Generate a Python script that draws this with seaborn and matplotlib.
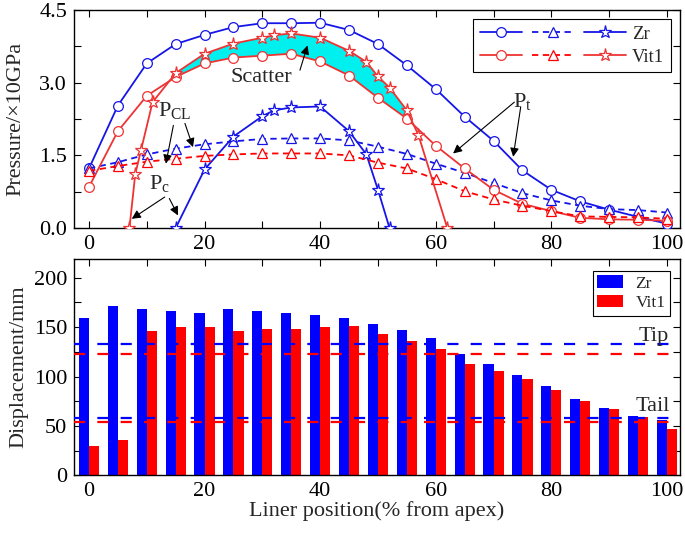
import numpy as np
import pandas as pd
import matplotlib
matplotlib.use("Agg")
import matplotlib.pyplot as plt
from matplotlib.lines import Line2D
from matplotlib.patches import Patch
from matplotlib.legend_handler import HandlerTuple
import seaborn as sns

# liner position (% from apex)
pos = [0, 5, 10, 15, 20, 25, 30, 35, 40, 45, 50, 55, 60, 65, 70, 75, 80, 85, 90, 95, 100]

# pressure (x10 GPa): Pt = circles, PCL = triangles, Pc = stars
zr_pt = [1.23, 2.53, 3.40, 3.80, 3.99, 4.15, 4.23, 4.23, 4.24, 4.09, 3.80, 3.36, 2.87, 2.30,
         1.80, 1.19, 0.79, 0.55, 0.38, 0.23, 0.09]
vit_pt = [0.85, 2.00, 2.73, 3.12, 3.40, 3.52, 3.56, 3.60, 3.44, 3.15, 2.69, 2.26, 1.70, 1.23,
          0.79, 0.50, 0.35, 0.21, 0.18, 0.17, 0.15]
zr_pcl = [1.23, 1.36, 1.52, 1.64, 1.73, 1.79, 1.84, 1.85, 1.85, 1.81, 1.68, 1.53, 1.33, 1.14,
          0.93, 0.72, 0.57, 0.46, 0.39, 0.37, 0.32]
vit_pcl = [1.18, 1.28, 1.37, 1.43, 1.49, 1.52, 1.54, 1.54, 1.54, 1.50, 1.35, 1.23, 1.01, 0.76,
           0.59, 0.46, 0.35, 0.24, 0.23, 0.22, 0.19]
zr_pc_x = [15, 20, 25, 30, 32, 35, 40, 45, 48, 50, 52]
zr_pc = [0.0, 1.21, 1.89, 2.31, 2.43, 2.49, 2.51, 2.00, 1.52, 0.79, 0.0]
vit_pc_x = [7, 8, 9, 11, 15, 20, 25, 30, 32, 35, 40, 45, 48, 50, 52, 55, 57, 62]
vit_pc = [0.0, 1.11, 1.61, 2.60, 3.20, 3.60, 3.81, 3.93, 3.98, 4.02, 3.93, 3.66, 3.43, 3.13,
          2.90, 2.43, 1.92, 0.0]

# displacement (mm)
zr_disp = [158.8, 171.3, 168.2, 166.6, 164.5, 167.9, 166.6, 164.5, 161.8, 158.8, 153.0, 147.0,
           138.9, 122.6, 112.8, 101.4, 89.9, 77.7, 68.2, 60.5, 56.1]
vit_disp = [30.1, 35.8, 146.3, 150.0, 149.7, 146.3, 148.3, 148.0, 149.7, 150.7, 142.9, 135.5,
            128.0, 112.5, 105.4, 97.0, 86.5, 75.7, 66.9, 59.5, 46.6]
zr_tip, vit_tip = 132.8, 123.0
zr_tail, vit_tail = 57.8, 54.4

BLUE = "#0000ff"
RED = "#ff0000"
LBLUE = "#1515e8"
LRED = "#ee3333"

sns.set_theme(style="ticks")
plt.rcParams["font.family"] = ["Liberation Serif", "DejaVu Serif"]
plt.rcParams["mathtext.fontset"] = "custom"
plt.rcParams["mathtext.rm"] = "Liberation Serif"
plt.rcParams["mathtext.it"] = "Liberation Serif:italic"

fig = plt.figure(figsize=(6.85, 5.34), dpi=100)
ax1 = fig.add_axes([0.108, 0.573, 0.885, 0.408])
ax2 = fig.add_axes([0.108, 0.110, 0.885, 0.405])

# ---------------- top panel ----------------
# scatter band between Vit1 Pc (stars) and Vit1 Pt (circles)
i0, i1 = pos.index(15), pos.index(55)
j0, j1 = vit_pc_x.index(15), vit_pc_x.index(55)
band_x = vit_pc_x[j0:j1 + 1] + pos[i0:i1 + 1][::-1]
band_y = vit_pc[j0:j1 + 1] + vit_pt[i0:i1 + 1][::-1]
ax1.fill(band_x, band_y, color="#00f0f0", lw=0, zorder=1)

def line(ax, x, y, color, marker, ms, ls="-"):
    sns.lineplot(x=x, y=y, ax=ax, color=color, lw=1.3, linestyle=ls, marker=marker,
                 markersize=ms, markerfacecolor="white", markeredgecolor=color,
                 markeredgewidth=0.9, zorder=3)

line(ax1, pos, zr_pt, LBLUE, "o", 7)
line(ax1, pos, zr_pcl, LBLUE, "^", 7, ls=(0, (3.5, 2.5)))
line(ax1, zr_pc_x, zr_pc, LBLUE, "*", 9.5)
line(ax1, pos, vit_pt, LRED, "o", 7)
line(ax1, pos, vit_pcl, RED, "^", 7, ls=(0, (3.5, 2.5)))
line(ax1, vit_pc_x, vit_pc, LRED, "*", 9.5)

ax1.set_xlim(-2.6, 102.3)
ax1.set_ylim(0, 4.5)
ax1.set_xticks([0, 20, 40, 60, 80, 100])
ax1.set_xticks(np.arange(0, 101, 10), minor=True)
ax1.set_yticks([0, 1.5, 3.0, 4.5])
ax1.set_yticks(np.arange(0, 4.6, 0.75), minor=True)
ax1.set_ylabel("Pressure/×10GPa", fontsize=16, labelpad=10)

arrow = dict(arrowstyle="-|>", color="black", lw=0.8, mutation_scale=13, shrinkA=0, shrinkB=0)
ax1.text(24.5, 3.11, "Scatter", fontsize=16, va="center", ha="left")
ax1.annotate("", xy=(37.8, 3.77), xytext=(36.5, 3.26), arrowprops=arrow)
ax1.text(12.0, 2.42, r"P$_{\mathrm{CL}}$", fontsize=16, va="center", ha="left")
ax1.annotate("", xy=(13.3, 1.33), xytext=(14.6, 2.12), arrowprops=arrow)
ax1.annotate("", xy=(18.0, 1.67), xytext=(16.6, 2.16), arrowprops=arrow)
ax1.text(10.4, 0.92, r"P$_{\mathrm{c}}$", fontsize=16, va="center", ha="left")
ax1.annotate("", xy=(7.4, 0.19), xytext=(13.1, 0.64), arrowprops=arrow)
ax1.annotate("", xy=(15.4, 0.26), xytext=(13.9, 0.61), arrowprops=arrow)
ax1.text(73.4, 2.62, r"P$_{\mathrm{t}}$", fontsize=16, va="center", ha="left")
ax1.annotate("", xy=(63.0, 1.54), xytext=(73.6, 2.60), arrowprops=arrow)
ax1.annotate("", xy=(73.4, 1.47), xytext=(74.7, 2.50), arrowprops=arrow)

def leg_row(color, dash_color):
    kw = dict(markerfacecolor="white", markeredgewidth=0.9, lw=1.3)
    return (Line2D([], [], color=color, marker="o", markersize=7, markeredgecolor=color, **kw),
            Line2D([], [], color=dash_color, marker="^", markersize=7, markeredgecolor=dash_color,
                   linestyle=(0, (3.5, 2.5)), **kw),
            Line2D([], [], color=color, marker="*", markersize=9.5, markeredgecolor=color, **kw))

leg1 = ax1.legend([leg_row(LBLUE, LBLUE), leg_row(LRED, RED)], ["Zr", "Vit1"],
                  handler_map={tuple: HandlerTuple(ndivide=None, pad=0.5)},
                  loc="upper right", bbox_to_anchor=(0.984, 0.959), borderaxespad=0,
                  fontsize=13.5, handlelength=7.8, labelspacing=0.3, handletextpad=0.3,
                  borderpad=0.35, fancybox=False, edgecolor="black", framealpha=1)
leg1.get_frame().set_linewidth(0.8)

# ---------------- bottom panel ----------------
disp = pd.DataFrame({
    "pos": pos * 2,
    "disp": zr_disp + vit_disp,
    "mat": ["Zr"] * len(pos) + ["Vit1"] * len(pos),
})
sns.barplot(data=disp, x="pos", y="disp", hue="mat", hue_order=["Zr", "Vit1"],
            palette=[BLUE, RED], native_scale=True, width=0.7, gap=0, saturation=1,
            dodge=True, errorbar=None, linewidth=0, ax=ax2, zorder=2)
if ax2.get_legend() is not None:
    ax2.get_legend().remove()

dash = (0, (5, 5.5))
ax2.axhline(zr_tip, color=BLUE, lw=1.6, linestyle=dash, zorder=3)
ax2.axhline(vit_tip, color=RED, lw=1.6, linestyle=dash, zorder=3)
ax2.axhline(zr_tail, color=BLUE, lw=1.6, linestyle=dash, zorder=3)
ax2.axhline(vit_tail, color=RED, lw=1.6, linestyle=dash, zorder=3)
ax2.text(100.3, 141, "Tip", fontsize=16, ha="right", va="center")
ax2.text(100.6, 70, "Tail", fontsize=16, ha="right", va="center")

ax2.set_xlim(-2.6, 102.3)
ax2.set_ylim(0, 219)
ax2.set_xticks([0, 20, 40, 60, 80, 100])
ax2.set_xticks(np.arange(0, 101, 10), minor=True)
ax2.set_xticklabels(["0", "20", "40", "60", "80", "100"])
ax2.set_yticks([0, 50, 100, 150, 200])
ax2.set_yticks(np.arange(0, 220, 25), minor=True)
ax2.set_xlabel("Liner position(% from apex)", fontsize=16, labelpad=0)
ax2.set_ylabel("Displacement/mm", fontsize=16, labelpad=4)

leg2 = ax2.legend([Patch(color=BLUE, lw=0), Patch(color=RED, lw=0)], ["Zr", "Vit1"],
                  loc="upper right", bbox_to_anchor=(0.983, 0.944), borderaxespad=0,
                  fontsize=12.5, handlelength=1.5, handleheight=0.7, labelspacing=0.2,
                  handletextpad=0.7, borderpad=0.25, fancybox=False, edgecolor="black",
                  framealpha=1)
leg2.get_frame().set_linewidth(0.8)

for ax in (ax1, ax2):
    ax.tick_params(which="both", direction="in", top=True, right=True, length=5,
                   width=0.8, labelsize=16, pad=5, colors="black")
    for s in ax.spines.values():
        s.set_visible(True)
        s.set_linewidth(1.0)
        s.set_color("black")

fig.savefig("out.png", dpi=100)
